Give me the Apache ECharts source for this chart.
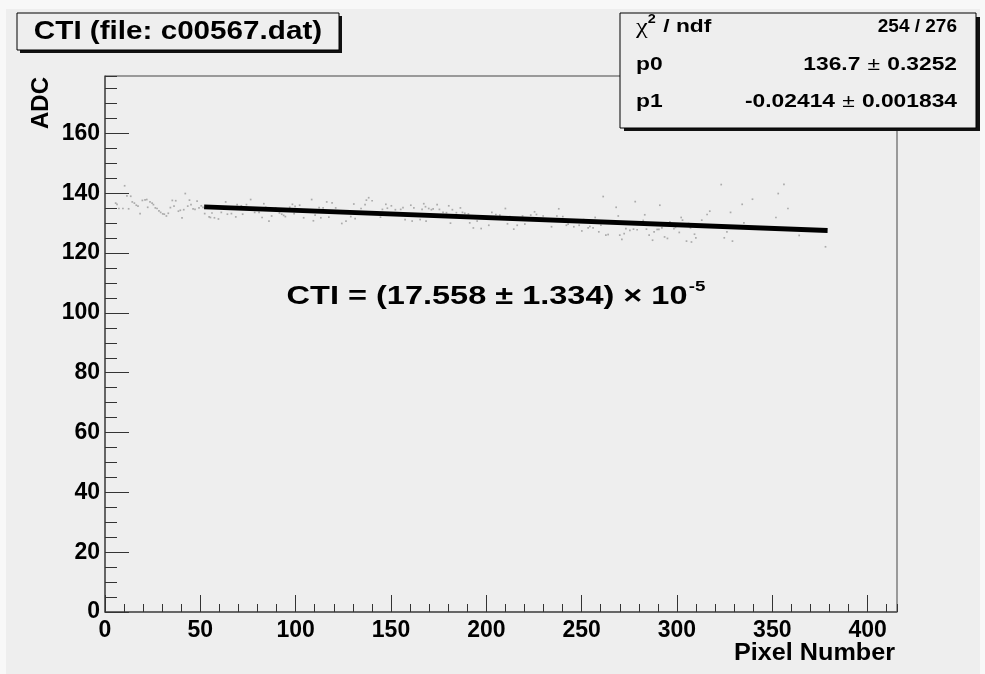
<!DOCTYPE html>
<html><head><meta charset="utf-8">
<script src="https://cdn.jsdelivr.net/npm/echarts@6/dist/echarts.min.js"></script>
<style>html,body{margin:0;padding:0;background:#f8f8f8;}#c{width:985px;height:674px;}</style>
</head><body><div id="c"></div>
<script>
// ---- data ----
const pixelX = [5.6,6.3,7.3,9.4,10.3,11.5,12.4,13.5,14.3,15.4,16.4,17.3,18.4,19.6,21.0,21.9,22.4,23.6,24.7,25.4,26.4,27.3,28.3,29.2,30.3,31.1,32.2,33.2,34.3,35.3,36.2,37.1,38.5,39.5,40.4,41.3,42.1,43.4,44.3,45.1,46.2,47.2,48.3,49.3,50.5,51.4,52.3,54.6,55.3,56.1,57.4,59.5,61.0,63.3,64.2,66.3,
68.6,69.3,71.5,72.2,74.2,76.4,78.5,80.8,82.4,83.3,84.3,86.0,87.4,89.5,91.5,92.7,93.7,94.6,96.9,98.3,99.2,99.7,102.1,104.2,108.4,109.3,110.2,112.3,113.2,114.4,116.3,117.4,119.1,121.0,124.2,126.4,127.0,128.9,130.5,131.2,134.3,
136.4,137.1,138.3,140.1,144.5,145.5,147.3,148.1,150.2,152.3,155.1,156.3,157.4,160.4,161.1,162.0,165.3,166.3,167.2,168.1,168.4,169.8,171.2,172.1,174.2,175.4,177.3,179.1,180.3,181.2,182.2,184.3,186.4,187.5,188.7,190.6,191.3,193.2,195.2,197.3,198.7,201.3,202.9,
205.0,207.1,210.0,211.1,212.3,214.4,216.2,219.0,220.2,223.3,225.3,226.3,229.8,234.2,237.0,238.0,240.1,242.0,242.9,245.9,248.7,250.1,251.0,253.4,254.3,256.0,257.1,259.0,260.1,261.3,262.7,263.9,268.1,269.2,270.0,271.1,
272.3,273.2,275.3,277.2,278.1,279.1,282.3,283.1,284.0,285.4,287.2,288.0,289.6,290.5,291.0,292.1,293.5,295.0,296.3,298.4,299.2,301.2,302.2,302.9,305.0,306.1,307.1,307.6,309.2,309.9,313.0,315.8,317.2,323.2,324.8,326.2,328.1,329.1,334.2,335.1,339.6,
351.9,353.1,356.1,358.2,364.1,377.9];
const adcY = [136.7,136.3,134.9,134.9,142.5,139.1,134.8,139.0,137.1,136.7,136.0,135.7,133.2,137.6,137.8,137.9,135.3,137.1,136.7,136.2,135.1,134.9,134.1,133.6,133.1,133.0,132.4,133.3,135.2,137.6,135.7,137.5,134.0,134.3,131.8,134.5,139.9,135.7,137.7,136.2,134.8,134.6,137.4,135.1,135.8,135.3,133.2,132.1,131.9,133.4,131.8,131.4,133.6,137.1,133.0,133.2,
132.1,136.2,135.8,133.0,136.2,137.9,133.6,133.6,131.9,136.5,135.3,130.7,132.4,135.1,133.4,133.0,132.6,132.2,135.3,136.3,133.2,135.6,136.0,131.8,137.9,130.8,132.7,135.2,131.8,135.1,137.1,132.0,136.8,135.1,129.9,130.7,133.6,132.2,136.4,131.5,134.9,
136.2,137.7,138.5,137.5,132.0,134.6,136.3,135.0,135.8,134.5,134.6,135.2,131.2,136.0,130.7,135.1,131.2,134.6,136.5,135.5,130.7,134.9,134.5,134.8,136.2,134.6,133.6,133.5,135.8,130.0,134.5,133.5,135.1,133.6,133.3,133.1,130.1,128.4,130.7,128.2,131.6,129.3,133.6,
132.9,132.7,134.9,129.8,132.2,128.0,129.3,132.4,129.7,132.7,133.8,132.9,132.4,128.8,132.4,134.8,132.2,129.3,129.7,128.8,129.3,127.4,131.2,128.4,128.9,128.4,131.9,127.1,129.3,138.9,126.0,126.2,135.3,132.4,126.0,124.6,
126.5,128.2,127.6,128.0,137.2,127.8,130.9,132.8,128.0,126.0,124.3,127.1,127.9,127.9,136.0,128.4,125.4,124.9,130.4,128.2,128.6,126.9,131.9,131.0,124.0,129.9,128.4,123.7,126.3,125.1,131.0,132.9,134.0,142.9,125.1,127.1,133.6,124.0,136.3,130.1,138.0,
131.9,139.9,143.0,134.9,125.9,122.1];
const fitP0 = 136.7;
const fitP1 = -0.02414;
const fitRange = [52, 379];
const xRange = [0, 415.4];
const yRange = [0, 179.2];
const xMajor = 50, xMinor = 10, yMajor = 20, yMinor = 5;
const titleText = 'CTI (file: c00567.dat)';
const xTitle = 'Pixel Number';
const yTitle = 'ADC';
const statNames = ['{chi|χ}{sup|2}{b| / ndf}', '{b|p0}', '{b|p1}'];
const statValues = ['{v|254 / 276}', '{v|136.7}{pm|±}{v|0.3252}', '{v|-0.02414}{pm|±}{v|0.001834}'];
const statValueScale = [1.0, 1.2, 1.2];
const ctiMain = 'CTI = (17.558 ± 1.334) × 10';
const ctiExp = '-5';

// ---- chart ----
const FONT = '"Liberation Sans", Arial, Helvetica, sans-serif';
const chart = echarts.init(document.getElementById('c'), null, {renderer: 'canvas'});
const points = pixelX.map((x, i) => [x, adcY[i]]);
const fitLine = fitRange.map(x => [x, fitP0 + fitP1 * x]);

function xAxisDef(interval, tickLen, showLabel, showLine) {
  return {
    type: 'value', min: xRange[0], max: xRange[1], interval: interval, position: 'bottom',
    axisLine: {show: showLine, onZero: false, lineStyle: {color: '#555', width: 1.5}},
    axisTick: {show: true, inside: true, length: tickLen, lineStyle: {color: '#333', width: 1}},
    axisLabel: {show: showLabel, showMaxLabel: false, fontFamily: FONT, fontSize: 23, fontWeight: 'bold', color: '#000', margin: 7},
    splitLine: {show: false}
  };
}
function yAxisDef(interval, tickLen, showLabel, showLine) {
  return {
    type: 'value', min: yRange[0], max: yRange[1], interval: interval, position: 'left',
    axisLine: {show: showLine, onZero: false, lineStyle: {color: '#555', width: 1.5}},
    axisTick: {show: true, inside: true, length: tickLen, lineStyle: {color: '#333', width: 1}},
    axisLabel: {show: showLabel, showMaxLabel: false, fontFamily: FONT, fontSize: 23, fontWeight: 'bold', color: '#000', margin: 5},
    splitLine: {show: false}
  };
}

const statGraphics = [];
const rowY = [27, 65, 102];
statNames.forEach((t, i) => {
  statGraphics.push({
    type: 'text', z: 102, x: 636, y: rowY[i], scaleX: 1.2,
    style: {
      text: t, fill: '#000', align: 'left', verticalAlign: 'middle',
      rich: {
        b: {fontFamily: FONT, fontSize: 19, fontWeight: 'bold', fill: '#000'},
        chi: {fontFamily: '"Liberation Serif", serif', fontSize: 22, fill: '#000'},
        sup: {fontFamily: FONT, fontSize: 12, fontWeight: 'bold', fill: '#000', padding: [0, 1, 14, 0]}
      }
    }
  });
  statGraphics.push({
    type: 'text', z: 102, x: 957, y: rowY[i], scaleX: statValueScale[i],
    style: {
      text: statValues[i], fill: '#000', align: 'right', verticalAlign: 'middle',
      rich: {
        v: {fontFamily: FONT, fontSize: 19, fontWeight: 'bold', fill: '#000'},
        pm: {fontFamily: FONT, fontSize: 19, fontWeight: 'normal', fill: '#000', padding: [0, 6, 0, 6]}
      }
    }
  });
});

chart.setOption({
  backgroundColor: '#eeeeee',
  animation: false,
  grid: {left: 105, right: 88, top: 76, bottom: 62, show: true, borderColor: '#444', borderWidth: 1, backgroundColor: 'transparent'},
  xAxis: [xAxisDef(xMinor, 8, false, true), xAxisDef(xMajor, 17, true, false)],
  yAxis: [yAxisDef(yMinor, 12, false, true), yAxisDef(yMajor, 24, true, false)],
  series: [
    {type: 'scatter', xAxisIndex: 0, yAxisIndex: 0, data: points, symbol: 'rect', symbolSize: 1.7,
     itemStyle: {color: '#9a9a9a'}, silent: true, z: 2},
    {type: 'line', xAxisIndex: 0, yAxisIndex: 0, data: fitLine, symbol: 'none',
     lineStyle: {color: '#000', width: 4.8}, silent: true, z: 3}
  ],
  graphic: [
    // lighter outer margin
    {type: 'rect', z: -1, shape: {x: 0, y: 0, width: 985, height: 9}, style: {fill: '#f8f8f8'}},
    {type: 'rect', z: -1, shape: {x: 0, y: 0, width: 6, height: 674}, style: {fill: '#f8f8f8'}},
    {type: 'rect', z: -1, shape: {x: 980, y: 0, width: 5, height: 674}, style: {fill: '#f8f8f8'}},
    // title box
    {type: 'rect', z: 100, shape: {x: 20, y: 16, width: 322, height: 37}, style: {fill: '#111'}},
    {type: 'rect', z: 101, shape: {x: 17, y: 13, width: 322, height: 37}, style: {fill: '#eeeeee', stroke: '#000', lineWidth: 1}},
    {type: 'text', z: 102, x: 178, y: 32, scaleX: 1.14, style: {text: titleText, font: 'bold 26px ' + FONT, fill: '#000', align: 'center', verticalAlign: 'middle'}},
    // stats box
    {type: 'rect', z: 100, shape: {x: 624, y: 17, width: 356, height: 114}, style: {fill: '#111'}},
    {type: 'rect', z: 101, shape: {x: 620, y: 13, width: 356, height: 115}, style: {fill: '#eeeeee', stroke: '#000', lineWidth: 1}},
    ...statGraphics,
    // axis titles
    {type: 'text', z: 50, x: 895, y: 653, scaleX: 1.05, style: {text: xTitle, font: 'bold 24px ' + FONT, fill: '#000', align: 'right', verticalAlign: 'middle'}},
    {type: 'text', z: 50, x: 41, y: 103, rotation: Math.PI / 2, style: {text: yTitle, font: 'bold 24px ' + FONT, fill: '#000', align: 'center', verticalAlign: 'middle'}},
    // CTI annotation
    {type: 'text', z: 50, x: 496, y: 297, scaleX: 1.25, style: {
      text: '{m|' + ctiMain + '}{s|' + ctiExp + '}', align: 'center', verticalAlign: 'middle',
      rich: {
        m: {fontFamily: FONT, fontSize: 26, fontWeight: 'bold', fill: '#000'},
        s: {fontFamily: FONT, fontSize: 15, fontWeight: 'bold', fill: '#000', padding: [0, 0, 20, 1]}
      }
    }}
  ]
});
</script>
</body></html>
